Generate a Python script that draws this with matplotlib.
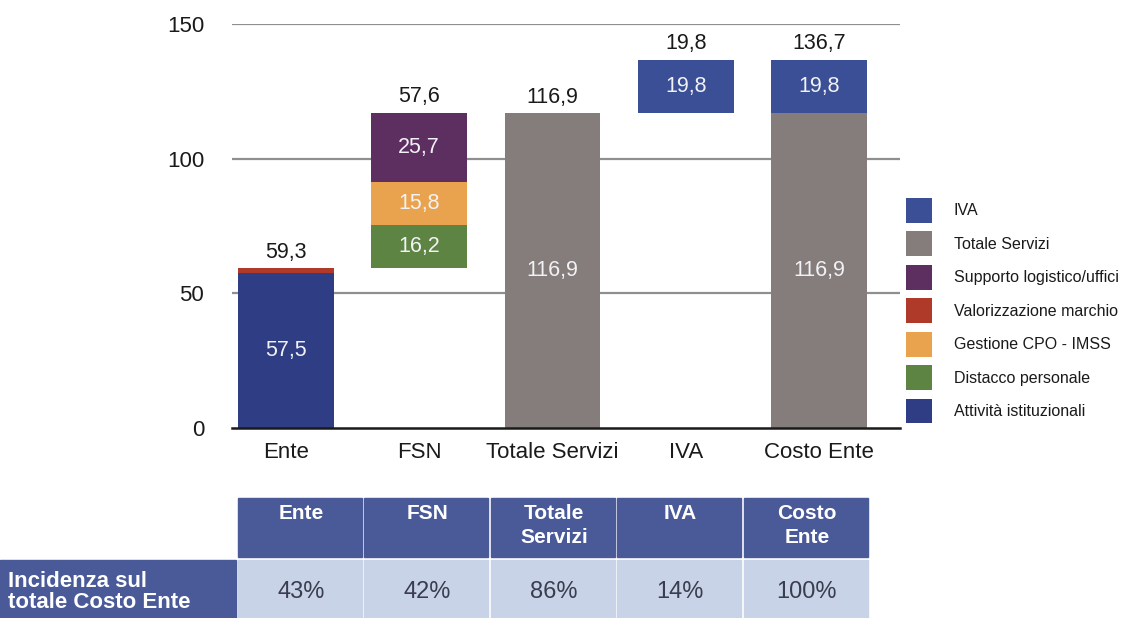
import matplotlib
matplotlib.use("Agg")
import matplotlib.pyplot as plt
import numpy as np
from matplotlib.patches import Rectangle, Patch

plt.rcParams['font.family'] = ['Liberation Sans', 'DejaVu Sans']

# ---------------- data ----------------
categories = ['Ente', 'FSN', 'Totale Servizi', 'IVA', 'Costo Ente']
attivita = [57.5, 0, 0, 0, 0]
distacco = [0, 16.2, 0, 0, 0]
gestione = [0, 15.8, 0, 0, 0]
valorizzazione = [1.8, 0, 0, 0, 0]
supporto = [0, 25.7, 0, 0, 0]
totale_servizi = [0, 0, 116.9, 0, 116.9]
iva = [0, 0, 0, 19.8, 19.8]
base_offset = [0, 59.3, 0, 116.9, 0]      # waterfall starting level
totals = [59.3, 57.6, 116.9, 19.8, 136.7]  # labels above bars

series_names = ['Attività istituzionali', 'Distacco personale', 'Gestione CPO - IMSS',
                'Valorizzazione marchio', 'Supporto logistico/uffici', 'Totale Servizi', 'IVA']
series_values = [attivita, distacco, gestione, valorizzazione, supporto, totale_servizi, iva]
series_colors = ['#2e3d84', '#5d8443', '#e9a24e', '#b03a2a', '#5c2f60', '#857d7b', '#3a4f96']
show_inner = [True, True, True, False, True, True, True]

table_header = ['Ente', 'FSN', 'Totale\nServizi', 'IVA', 'Costo\nEnte']
table_row_label = 'Incidenza sul\ntotale Costo Ente'
table_pct = ['43%', '42%', '86%', '14%', '100%']

# ---------------- figure ----------------
W, H = 1143, 618
fig = plt.figure(figsize=(W / 100, H / 100), dpi=100)

ax = fig.add_axes([232 / W, 1 - 428 / H, (900 - 232) / W, (428 - 24) / H])
x = np.arange(len(categories))
width = 0.72
bottom = np.array(base_offset, dtype=float)
for name, vals, col, show in zip(series_names, series_values, series_colors, show_inner):
    vals = np.array(vals, dtype=float)
    ax.bar(x, vals, width, bottom=bottom, color=col, zorder=3, label=name)
    if show:
        for xi, v, b in zip(x, vals, bottom):
            if v > 0:
                ax.text(xi, b + v / 2, f"{v:.1f}".replace('.', ','), ha='center', va='center',
                        color='#f2f2f6', fontsize=15.5, zorder=4)
    bottom = bottom + vals

for xi, top, t in zip(x, bottom, totals):
    ax.text(xi, top + 2, f"{t:.1f}".replace('.', ','), ha='center', va='bottom',
            color='#1a1a1a', fontsize=15.5, zorder=4)

ax.set_xlim(-0.405, 4.608)
ax.set_ylim(0, 150)
ax.set_yticks([0, 50, 100, 150])
ax.set_yticklabels(['0', '50', '100', '150'])
ax.set_xticks(x)
ax.set_xticklabels(categories)
ax.tick_params(axis='both', length=0, labelsize=16, colors='#1a1a1a')
ax.tick_params(axis='y', pad=20)
ax.tick_params(axis='x', pad=10)
for yv in [50, 100, 150]:
    ax.axhline(yv, color='#8f8f8f', lw=1.6, zorder=1)
for s in ['top', 'right', 'left']:
    ax.spines[s].set_visible(False)
ax.spines['bottom'].set_color('#1a1a1a')
ax.spines['bottom'].set_linewidth(1.8)
ax.spines['bottom'].set_zorder(5)

# legend (top-down order as in reference)
handles = [Patch(facecolor=c, label=n) for n, c in zip(series_names, series_colors)][::-1]
leg = fig.legend(handles=handles, loc='upper left', bbox_to_anchor=(906 / W, 1 - 198 / H),
                 frameon=False, fontsize=11.5, handlelength=1.6, handleheight=2.0,
                 labelspacing=0.55, handletextpad=1.4, borderpad=0, borderaxespad=0)
for t in leg.get_texts():
    t.set_color('#1a1a1a')

# ---------------- table ----------------
tab = fig.add_axes([0, 0, 1, 1], zorder=-1)
tab.set_xlim(0, W)
tab.set_ylim(H, 0)
tab.axis('off')
head_col = '#4a5a98'
cell_col = '#c9d3e8'
col_left, col_w = 238, 126.4
for i, (hdr, pct) in enumerate(zip(table_header, table_pct)):
    x0 = col_left + i * col_w
    tab.add_patch(Rectangle((x0, 498), col_w - 2.5, 59, color=head_col))
    tab.add_patch(Rectangle((x0, 560), col_w - 2.5, 60, color=cell_col))
    tab.text(x0 + col_w / 2, 504, hdr, ha='center', va='top', color='white',
             fontsize=15, fontweight='bold', linespacing=1.35)
    tab.text(x0 + col_w / 2, 592, pct, ha='center', va='center', color='#3a3d50', fontsize=17)
tab.add_patch(Rectangle((0, 560), 236, 60, color=head_col))
tab.text(8, 592, table_row_label, ha='left', va='center', color='white',
         fontsize=16, fontweight='bold', linespacing=1.05)

fig.savefig('out.png', dpi=100)
